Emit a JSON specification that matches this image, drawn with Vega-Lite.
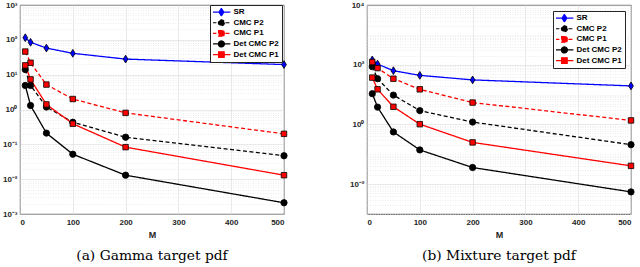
{
  "$schema": "https://vega.github.io/schema/vega-lite/v6.json",
  "padding": {"left": 2, "top": 0, "right": 0, "bottom": 0},
  "background": "#ffffff",
  "spacing": 59,
  "resolve": {"scale": {"x": "independent", "y": "independent", "color": "independent", "strokeDash": "independent"}, "legend": {"color": "independent"}},
  "datasets": {
    "gamma": [
      {"series": "SR", "M": 10, "v": 115}, {"series": "SR", "M": 20, "v": 85}, {"series": "SR", "M": 50, "v": 58}, {"series": "SR", "M": 100, "v": 41}, {"series": "SR", "M": 200, "v": 28}, {"series": "SR", "M": 500, "v": 19.5},
      {"series": "CMC P2", "M": 10, "v": 14}, {"series": "CMC P2", "M": 20, "v": 4.9}, {"series": "CMC P2", "M": 50, "v": 1.18}, {"series": "CMC P2", "M": 100, "v": 0.43}, {"series": "CMC P2", "M": 200, "v": 0.16}, {"series": "CMC P2", "M": 500, "v": 0.047},
      {"series": "CMC P1", "M": 10, "v": 46}, {"series": "CMC P1", "M": 20, "v": 22}, {"series": "CMC P1", "M": 50, "v": 5.2}, {"series": "CMC P1", "M": 100, "v": 2.0}, {"series": "CMC P1", "M": 200, "v": 0.8}, {"series": "CMC P1", "M": 500, "v": 0.2},
      {"series": "Det CMC P2", "M": 10, "v": 4.9}, {"series": "Det CMC P2", "M": 20, "v": 1.3}, {"series": "Det CMC P2", "M": 50, "v": 0.21}, {"series": "Det CMC P2", "M": 100, "v": 0.052}, {"series": "Det CMC P2", "M": 200, "v": 0.013}, {"series": "Det CMC P2", "M": 500, "v": 0.0021},
      {"series": "Det CMC P1", "M": 10, "v": 18.5}, {"series": "Det CMC P1", "M": 20, "v": 7.3}, {"series": "Det CMC P1", "M": 50, "v": 1.4}, {"series": "Det CMC P1", "M": 100, "v": 0.39}, {"series": "Det CMC P1", "M": 200, "v": 0.083}, {"series": "Det CMC P1", "M": 500, "v": 0.013}
    ],
    "mixture": [
      {"series": "SR", "M": 10, "v": 145}, {"series": "SR", "M": 20, "v": 105}, {"series": "SR", "M": 50, "v": 63}, {"series": "SR", "M": 100, "v": 44}, {"series": "SR", "M": 200, "v": 31}, {"series": "SR", "M": 500, "v": 19.5},
      {"series": "CMC P2", "M": 10, "v": 86}, {"series": "CMC P2", "M": 20, "v": 34}, {"series": "CMC P2", "M": 50, "v": 9.6}, {"series": "CMC P2", "M": 100, "v": 2.9}, {"series": "CMC P2", "M": 200, "v": 1.2}, {"series": "CMC P2", "M": 500, "v": 0.21},
      {"series": "CMC P1", "M": 10, "v": 123}, {"series": "CMC P1", "M": 20, "v": 77}, {"series": "CMC P1", "M": 50, "v": 34}, {"series": "CMC P1", "M": 100, "v": 15}, {"series": "CMC P1", "M": 200, "v": 5.4}, {"series": "CMC P1", "M": 500, "v": 1.36},
      {"series": "Det CMC P2", "M": 10, "v": 10.7}, {"series": "Det CMC P2", "M": 20, "v": 3.8}, {"series": "Det CMC P2", "M": 50, "v": 0.56}, {"series": "Det CMC P2", "M": 100, "v": 0.14}, {"series": "Det CMC P2", "M": 200, "v": 0.036}, {"series": "Det CMC P2", "M": 500, "v": 0.0055},
      {"series": "Det CMC P1", "M": 10, "v": 37}, {"series": "Det CMC P1", "M": 20, "v": 15}, {"series": "Det CMC P1", "M": 50, "v": 3.9}, {"series": "Det CMC P1", "M": 100, "v": 1.02}, {"series": "Det CMC P1", "M": 200, "v": 0.25}, {"series": "Det CMC P1", "M": 500, "v": 0.041}
    ]
  },
  "config": {
    "view": {"stroke": "#262626", "strokeWidth": 0.8},
    "axis": {
      "labelFont": "Liberation Sans", "labelFontWeight": "bold", "labelFontSize": 8, "labelColor": "#262626",
      "titleFont": "Liberation Sans", "titleFontWeight": "bold", "titleFontSize": 9, "titleColor": "#262626",
      "domain": false, "ticks": false, "tickSize": 0, "labelPadding": 3,
      "gridColor": "#dcdcdc", "gridWidth": 0.6
    },
    "legend": {
      "title": null, "orient": "none",
      "symbolSize": 64, "symbolStrokeWidth": 1.2, "symbolOffset": 3.4,
      "labelFont": "Liberation Sans", "labelFontWeight": "bold", "labelFontSize": 8, "labelColor": "#000000",
      "labelOffset": 7, "padding": 3, "rowPadding": 1.6, "clipHeight": 8.3, "strokeColor": "#262626", "fillColor": "#ffffff", "cornerRadius": 0
    },
    "title": {"font": "DejaVu Serif", "fontSize": 13.8, "fontWeight": "normal", "color": "#000000"}
  },
  "hconcat": [
    {
      "width": 264, "height": 209,
      "title": {"text": "(a) Gamma target pdf", "orient": "bottom", "anchor": "middle", "frame": "group", "offset": 10},
      "data": {"name": "gamma"},
      "encoding": {
        "x": {"field": "M", "type": "quantitative", "scale": {"domain": [0, 500], "nice": false},
              "axis": {"values": [0, 100, 200, 300, 400, 500], "title": "M", "titlePadding": 4, "labelPadding": 4}},
        "y": {"field": "v", "type": "quantitative", "scale": {"type": "log", "domain": [0.001, 1000], "nice": false},
              "axis": {"title": null,
                "values": [0.001,0.002,0.003,0.004,0.005,0.006,0.007,0.008,0.009,0.01,0.02,0.03,0.04,0.05,0.06,0.07,0.08,0.09,0.1,0.2,0.3,0.4,0.5,0.6,0.7,0.8,0.9,1,2,3,4,5,6,7,8,9,10,20,30,40,50,60,70,80,90,100,200,300,400,500,600,700,800,900,1000],
                "labelExpr": "abs(log(datum.value)/LN10 - round(log(datum.value)/LN10)) < 0.001 ? '10' + (datum.value < 0.5 ? '⁻' : '') + ['⁰','¹','²','³','⁴'][abs(round(log(datum.value)/LN10))] : ''",
                "gridDash": {"condition": {"test": "abs(log(datum.value)/LN10 - round(log(datum.value)/LN10)) < 0.001", "value": [1, 0]}, "value": [1, 1.5]},
                "gridColor": {"condition": {"test": "abs(log(datum.value)/LN10 - round(log(datum.value)/LN10)) < 0.001", "value": "#d4d4d4"}, "value": "#e0e0e0"}
              }}
      },
      "layer": [
        {
          "mark": {"type": "line", "strokeWidth": 1.3},
          "encoding": {
            "color": {"field": "series", "type": "nominal",
              "scale": {"domain": ["SR", "CMC P2", "CMC P1", "Det CMC P2", "Det CMC P1"], "range": ["#0000ff", "#000000", "#ff0000", "#000000", "#ff0000"]},
              "legend": {"legendX": 190, "legendY": 0,
                "encode": {"symbols": {"update": {
                  "shape": {"signal": "datum.value === 'SR' ? 'M-2.25,0H2.25M0,-0.95L0.6,0L0,0.95L-0.6,0Z' : indexof(datum.value, 'P2') >= 0 ? 'M-2.25,0H2.25M0.75,0A0.75,0.75 0 1,1 -0.75,0A0.75,0.75 0 1,1 0.75,0Z' : 'M-2.25,0H2.25M-0.7,-0.7H0.7V0.7H-0.7Z'"},
                  "fill": {"signal": "datum.value === 'SR' ? '#0000ff' : indexof(datum.value, 'P2') >= 0 ? '#000000' : '#ff0000'"},
                  "fillOpacity": {"value": 1},
                  "strokeDash": {"signal": "(datum.value === 'CMC P2' || datum.value === 'CMC P1') ? [3, 1.5] : [1, 0]"},
                  "size": {"value": 64}
                }}}
              }},
            "strokeDash": {"field": "series", "type": "nominal",
              "scale": {"domain": ["SR", "CMC P2", "CMC P1", "Det CMC P2", "Det CMC P1"], "range": [[1, 0], [4, 2.5], [4, 2.5], [1, 0], [1, 0]]},
              "legend": null}
          }
        },
        {
          "transform": [{"filter": "datum.series === 'SR'"}],
          "mark": {"type": "point", "shape": "M0,-1.3L0.8,0L0,1.3L-0.8,0Z", "filled": true, "fill": "#0000ff", "stroke": "#000000", "strokeWidth": 0.8, "opacity": 1, "size": 36}
        },
        {
          "transform": [{"filter": "indexof(datum.series, 'P2') >= 0"}],
          "mark": {"type": "point", "shape": "circle", "filled": true, "fill": "#000000", "stroke": "#000000", "strokeWidth": 0.8, "opacity": 1, "size": 40}
        },
        {
          "transform": [{"filter": "indexof(datum.series, 'P1') >= 0"}],
          "mark": {"type": "point", "shape": "square", "filled": true, "fill": "#ff0000", "stroke": "#000000", "strokeWidth": 0.8, "opacity": 1, "size": 30}
        }
      ]
    },
    {
      "width": 264, "height": 209,
      "title": {"text": "(b) Mixture target pdf", "orient": "bottom", "anchor": "middle", "frame": "group", "offset": 10},
      "data": {"name": "mixture"},
      "encoding": {
        "x": {"field": "M", "type": "quantitative", "scale": {"domain": [0, 500], "nice": false},
              "axis": {"values": [0, 100, 200, 300, 400, 500], "title": "M", "titlePadding": 4, "labelPadding": 4}},
        "y": {"field": "v", "type": "quantitative", "scale": {"type": "log", "domain": [0.001, 10000], "nice": false},
              "axis": {"title": null,
                "values": [0.001,0.002,0.003,0.004,0.005,0.006,0.007,0.008,0.009,0.01,0.02,0.03,0.04,0.05,0.06,0.07,0.08,0.09,0.1,0.2,0.3,0.4,0.5,0.6,0.7,0.8,0.9,1,2,3,4,5,6,7,8,9,10,20,30,40,50,60,70,80,90,100,200,300,400,500,600,700,800,900,1000,2000,3000,4000,5000,6000,7000,8000,9000,10000],
                "labelExpr": "abs(log(datum.value)/LN10 - round(log(datum.value)/LN10)) < 0.001 && round(log(datum.value)/LN10) % 2 == 0 ? '10' + (datum.value < 0.5 ? '⁻' : '') + ['⁰','¹','²','³','⁴'][abs(round(log(datum.value)/LN10))] : ''",
                "gridDash": {"condition": {"test": "abs(log(datum.value)/LN10 - round(log(datum.value)/LN10)) < 0.001 && round(log(datum.value)/LN10) % 2 == 0", "value": [1, 0]}, "value": [1, 1.5]},
                "gridColor": {"condition": {"test": "abs(log(datum.value)/LN10 - round(log(datum.value)/LN10)) < 0.001 && round(log(datum.value)/LN10) % 2 == 0", "value": "#d4d4d4"}, "value": "#e0e0e0"}
              }}
      },
      "layer": [
        {
          "mark": {"type": "line", "strokeWidth": 1.3},
          "encoding": {
            "color": {"field": "series", "type": "nominal",
              "scale": {"domain": ["SR", "CMC P2", "CMC P1", "Det CMC P2", "Det CMC P1"], "range": ["#0000ff", "#000000", "#ff0000", "#000000", "#ff0000"]},
              "legend": {"legendX": 186, "legendY": 6,
                "encode": {"symbols": {"update": {
                  "shape": {"signal": "datum.value === 'SR' ? 'M-2.25,0H2.25M0,-0.95L0.6,0L0,0.95L-0.6,0Z' : indexof(datum.value, 'P2') >= 0 ? 'M-2.25,0H2.25M0.75,0A0.75,0.75 0 1,1 -0.75,0A0.75,0.75 0 1,1 0.75,0Z' : 'M-2.25,0H2.25M-0.7,-0.7H0.7V0.7H-0.7Z'"},
                  "fill": {"signal": "datum.value === 'SR' ? '#0000ff' : indexof(datum.value, 'P2') >= 0 ? '#000000' : '#ff0000'"},
                  "fillOpacity": {"value": 1},
                  "strokeDash": {"signal": "(datum.value === 'CMC P2' || datum.value === 'CMC P1') ? [3, 1.5] : [1, 0]"},
                  "size": {"value": 64}
                }}}
              }},
            "strokeDash": {"field": "series", "type": "nominal",
              "scale": {"domain": ["SR", "CMC P2", "CMC P1", "Det CMC P2", "Det CMC P1"], "range": [[1, 0], [4, 2.5], [4, 2.5], [1, 0], [1, 0]]},
              "legend": null}
          }
        },
        {
          "transform": [{"filter": "datum.series === 'SR'"}],
          "mark": {"type": "point", "shape": "M0,-1.3L0.8,0L0,1.3L-0.8,0Z", "filled": true, "fill": "#0000ff", "stroke": "#000000", "strokeWidth": 0.8, "opacity": 1, "size": 36}
        },
        {
          "transform": [{"filter": "indexof(datum.series, 'P2') >= 0"}],
          "mark": {"type": "point", "shape": "circle", "filled": true, "fill": "#000000", "stroke": "#000000", "strokeWidth": 0.8, "opacity": 1, "size": 40}
        },
        {
          "transform": [{"filter": "indexof(datum.series, 'P1') >= 0"}],
          "mark": {"type": "point", "shape": "square", "filled": true, "fill": "#ff0000", "stroke": "#000000", "strokeWidth": 0.8, "opacity": 1, "size": 30}
        }
      ]
    }
  ]
}
